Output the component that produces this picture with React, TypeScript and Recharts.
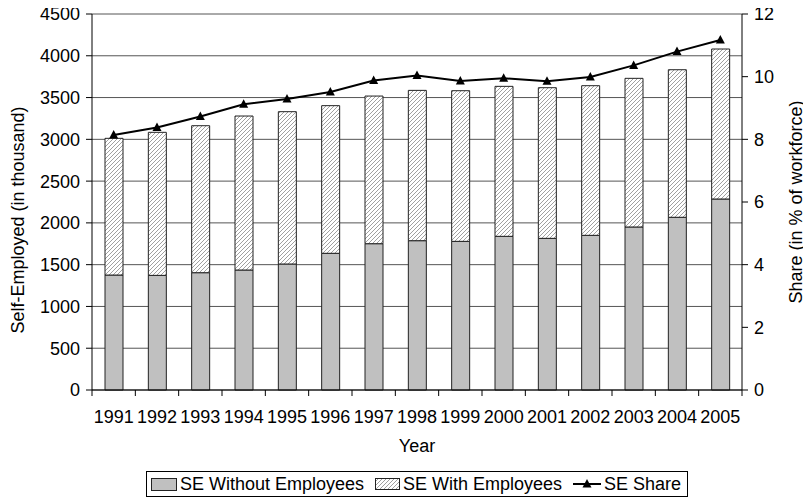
import React from "react"
import { ComposedChart, Bar, Line, XAxis, YAxis, CartesianGrid, Legend } from "recharts"

// values
const years = ["1991", "1992", "1993", "1994", "1995", "1996", "1997", "1998", "1999", "2000", "2001", "2002", "2003", "2004", "2005"]
const withoutEmployees = [1376, 1372, 1404, 1436, 1508, 1636, 1751, 1787, 1779, 1839, 1815, 1851, 1951, 2067, 2286]
const totalSelfEmployed = [3012, 3084, 3163, 3279, 3331, 3403, 3518, 3586, 3582, 3634, 3618, 3642, 3730, 3833, 4081]
const seShare = [8.14, 8.38, 8.73, 9.12, 9.29, 9.51, 9.88, 10.04, 9.86, 9.95, 9.85, 9.99, 10.36, 10.8, 11.17]
const leftTicks = [0, 500, 1000, 1500, 2000, 2500, 3000, 3500, 4000, 4500]
const rightTicks = [0, 2, 4, 6, 8, 10, 12]

const data = years.map((year, i) => ({
  year,
  without: withoutEmployees[i],
  with: totalSelfEmployed[i] - withoutEmployees[i],
  share: seShare[i],
}))

// chart is pulled over the body margin, so chart coords == page coords
const W = 811
const H = 499
const PLOT_LEFT = 92
const PLOT_RIGHT = 742
const PLOT_BOTTOM = 390
const BAND = (PLOT_RIGHT - PLOT_LEFT) / years.length
const FONT = "'Liberation Sans', Arial, sans-serif"
const FS = 18

const C = {
  gray: "#c0c0c0",
  barEdge: "#222",
  hatch: "#a0a0a0",
  grid: "#555",
  axis: "#000",
  text: "#000",
}

const YearTick = (props: any) => {
  const { x, payload, index } = props
  const half = BAND / 2
  return (
    <g>
      <line x1={x - half} x2={x - half} y1={PLOT_BOTTOM} y2={PLOT_BOTTOM + 6} stroke={C.axis} />
      {index === years.length - 1 && (
        <line x1={x + half} x2={x + half} y1={PLOT_BOTTOM} y2={PLOT_BOTTOM + 6} stroke={C.axis} />
      )}
      <text x={x} y={PLOT_BOTTOM + 33} textAnchor="middle" fontSize={FS} fontFamily={FONT} fill={C.text}>
        {payload.value}
      </text>
    </g>
  )
}

const Triangle = (props: any) => {
  const { cx, cy } = props
  if (cx == null || cy == null) return null
  return <path d={`M${cx},${cy - 5} L${cx + 4.5},${cy + 3.5} L${cx - 4.5},${cy + 3.5} Z`} fill="#000" />
}

const HatchSwatch = () => (
  <svg width={25} height={12} style={{ display: "block" }}>
    <rect x={0.5} y={0.5} width={24} height={11} fill="url(#hatch)" stroke={C.barEdge} />
  </svg>
)

const LegendBox = () => (
  <div
    style={{
      border: "1px solid #000",
      height: 24,
      display: "flex",
      alignItems: "center",
      justifyContent: "space-between",
      fontFamily: FONT,
      fontSize: FS,
      color: C.text,
      padding: "0 6px 0 4px",
      whiteSpace: "nowrap",
      background: "#fff",
    }}
  >
    <div style={{ display: "flex", alignItems: "center" }}>
      <div style={{ width: 24, height: 11, background: C.gray, border: `1px solid ${C.barEdge}`, marginRight: 3 }} />
      <span>SE Without Employees</span>
    </div>
    <div style={{ display: "flex", alignItems: "center" }}>
      <div style={{ marginRight: 3 }}><HatchSwatch /></div>
      <span>SE With Employees</span>
    </div>
    <div style={{ display: "flex", alignItems: "center" }}>
      <svg width={28} height={12} style={{ marginRight: 3 }}>
        <line x1={0} x2={28} y1={6} y2={6} stroke="#000" strokeWidth={2} />
        <path d="M14,1 L18.5,9.5 L9.5,9.5 Z" fill="#000" />
      </svg>
      <span>SE Share</span>
    </div>
  </div>
)

export default function App() {
  return (
    <div style={{ width: W, height: H, position: "relative", margin: "-8px 0 0 -8px" }}>
      <ComposedChart
        width={W}
        height={H}
        data={data}
        margin={{ top: 14, right: 14, left: 32, bottom: 2 }}
        style={{ fontFamily: FONT }}
      >
        <defs>
          <pattern id="hatch" patternUnits="userSpaceOnUse" width={4} height={4}>
            <rect width={4} height={4} fill="#fff" />
            <path d="M-1,1 l2,-2 M0,4 l4,-4 M3,5 l2,-2" stroke={C.hatch} strokeWidth={1} />
          </pattern>
        </defs>
        <CartesianGrid vertical={false} stroke={C.grid} yAxisId="left" />
        <XAxis
          dataKey="year"
          height={81}
          tickLine={false}
          axisLine={{ stroke: C.axis }}
          tick={<YearTick />}
          interval={0}
          label={{ value: "Year", position: "insideTop", offset: 49, fontSize: FS, fontFamily: FONT, fill: C.text }}
        />
        <YAxis
          yAxisId="left"
          width={60}
          domain={[0, 4500]}
          ticks={leftTicks}
          interval={0}
          tickSize={6}
          tickMargin={6}
          tick={{ fontSize: FS, fill: C.text, fontFamily: FONT }}
          axisLine={{ stroke: C.axis }}
          tickLine={{ stroke: C.axis }}
          label={{ value: "Self-Employed (in thousand)", angle: -90, position: "insideLeft", dx: -19, dy: 18, fontSize: FS, fill: C.text, style: { textAnchor: "middle" } }}
        />
        <YAxis
          yAxisId="right"
          orientation="right"
          width={55}
          domain={[0, 12]}
          ticks={rightTicks}
          interval={0}
          tickSize={6}
          tickMargin={6}
          tick={{ fontSize: FS, fill: C.text, fontFamily: FONT }}
          axisLine={{ stroke: C.axis }}
          tickLine={{ stroke: C.axis }}
          label={{ value: "Share (in % of workforce)", angle: -90, position: "insideRight", dx: 4, fontSize: FS, fill: C.text, style: { textAnchor: "middle" } }}
        />
        <Legend
          verticalAlign="bottom"
          wrapperStyle={{ left: 146, top: 471, width: 542, height: 26 }}
          content={() => <LegendBox />}
        />
        <Bar yAxisId="left" dataKey="without" name="SE Without Employees" stackId="se" barSize={18}
          fill={C.gray} stroke={C.barEdge} strokeWidth={1} isAnimationActive={false} />
        <Bar yAxisId="left" dataKey="with" name="SE With Employees" stackId="se" barSize={18}
          fill="url(#hatch)" stroke={C.barEdge} strokeWidth={1} isAnimationActive={false} />
        <Line yAxisId="right" dataKey="share" name="SE Share" type="linear" stroke="#000" strokeWidth={2}
          dot={<Triangle />} activeDot={false} isAnimationActive={false} />
      </ComposedChart>
    </div>
  )
}
